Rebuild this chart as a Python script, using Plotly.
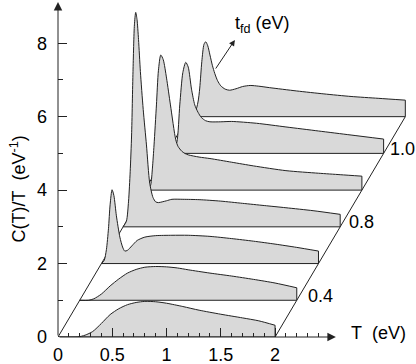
import plotly.graph_objects as go

# each curve: T measured from the left end of its own baseline, C(T)/T above its own baseline
t0 = [0, 0.18, 0.25, 0.32, 0.4, 0.48, 0.56, 0.64, 0.72, 0.8, 0.9, 1.0, 1.15, 1.3, 1.5, 1.7, 1.85, 2.0]
c0 = [0, 0, 0.05, 0.15, 0.37, 0.61, 0.77, 0.88, 0.94, 0.97, 0.96, 0.92, 0.83, 0.73, 0.62, 0.52, 0.44, 0.32]

t1 = [0, 0.08, 0.13, 0.2, 0.28, 0.36, 0.44, 0.52, 0.6, 0.7, 0.8, 0.9, 1.0, 1.2, 1.4, 1.6, 1.8, 2.0]
c1 = [0, 0, 0.04, 0.17, 0.39, 0.58, 0.74, 0.84, 0.9, 0.92, 0.91, 0.88, 0.83, 0.74, 0.66, 0.57, 0.47, 0.34]

t2 = [0, 0.025, 0.046, 0.065, 0.08, 0.098, 0.115, 0.138, 0.17, 0.195, 0.215, 0.24, 0.28, 0.33, 0.4,
      0.5, 0.65, 0.8, 1.0, 1.2, 1.4, 1.6, 1.8, 2.0]
c2 = [0, 0.08, 0.38, 0.95, 1.6, 2.01, 1.85, 1.3, 0.72, 0.45, 0.34, 0.36, 0.48, 0.63, 0.72,
      0.76, 0.77, 0.77, 0.74, 0.68, 0.61, 0.53, 0.44, 0.34]

t3 = [0, 0.03, 0.05, 0.065, 0.078, 0.091, 0.104, 0.116, 0.128, 0.142, 0.159, 0.185, 0.215, 0.245,
      0.275, 0.3, 0.325, 0.36, 0.4, 0.45, 0.55, 0.7, 0.9, 1.1, 1.3, 1.5, 1.75, 2.0]
c3 = [0, 0.15, 0.7, 1.5, 2.5, 4.23, 5.5, 5.84, 5.65, 5.1, 4.23, 3.2, 2.23, 1.19,
      0.8, 0.68, 0.66, 0.68, 0.71, 0.75, 0.75, 0.74, 0.70, 0.64, 0.58, 0.52, 0.44, 0.34]

t4 = [0, 0.04, 0.055, 0.07, 0.085, 0.107, 0.125, 0.147, 0.17, 0.2, 0.236, 0.285, 0.306, 0.34,
      0.368, 0.4, 0.5, 0.6, 0.8, 1.0, 1.3, 1.6, 1.8, 2.0]
c4 = [0, 0.05, 0.15, 0.6, 1.23, 2.32, 3.25, 3.68, 3.55, 3.05, 2.32, 1.37, 1.19, 1.06,
      1.0, 0.96, 0.9, 0.86, 0.76, 0.66, 0.53, 0.46, 0.42, 0.38]

t5 = [0, 0.06, 0.095, 0.122, 0.15, 0.177, 0.2, 0.23, 0.26, 0.29, 0.32, 0.36, 0.4, 0.5, 0.6,
      0.83, 1.1, 1.4, 1.7, 2.0]
c5 = [0, 0.05, 0.3, 1.32, 2.2, 2.48, 2.35, 1.75, 1.32, 1.12, 0.98, 0.89, 0.86, 0.86, 0.87,
      0.82, 0.72, 0.61, 0.5, 0.39]

t6 = [0, 0.06, 0.09, 0.106, 0.125, 0.145, 0.161, 0.18, 0.2, 0.222, 0.244, 0.27, 0.3, 0.34, 0.38,
      0.44, 0.5, 0.57, 0.65, 0.75, 1.0, 1.25, 1.5, 1.75, 2.0]
c6 = [0, 0.1, 0.4, 0.78, 1.5, 1.97, 2.04, 1.93, 1.68, 1.4, 1.18, 0.98, 0.84, 0.75, 0.72,
      0.76, 0.82, 0.85, 0.83, 0.79, 0.7, 0.62, 0.55, 0.5, 0.45]

curves_t = [t0, t1, t2, t3, t4, t5, t6]
curves_c = [c0, c1, c2, c3, c4, c5, c6]
shift_x = [0, 0.2, 0.4, 0.6, 0.8, 1.0, 1.2]
shift_y = [0, 1, 2, 3, 4, 5, 6]
t_span = 2.0

label_curves = [1, 3, 5]
label_text = ['0.4', '0.8', '1.0']

x_major = [0, 0.5, 1, 1.5, 2]
x_minor = [0.1, 0.2, 0.3, 0.4, 0.6, 0.7, 0.8, 0.9, 1.1, 1.2, 1.3, 1.4, 1.6, 1.7, 1.8, 1.9,
           2.1, 2.2, 2.3, 2.4]
y_major = [0, 2, 4, 6, 8]
y_minor = [1, 3, 5, 7]

ink = '#222222'
grey = '#d9d9d9'
font = 'Liberation Sans, Arial, sans-serif'

fig = go.Figure()

# the two slanted edges of the stack, drawn behind everything
fig.add_trace(go.Scatter(x=[shift_x[0], shift_x[-1]], y=[shift_y[0], shift_y[-1]],
                         mode='lines', line=dict(color=ink, width=1), hoverinfo='skip'))
fig.add_trace(go.Scatter(x=[shift_x[0] + t_span, shift_x[-1] + t_span],
                         y=[shift_y[0], shift_y[-1]],
                         mode='lines', line=dict(color=ink, width=1), hoverinfo='skip'))

# back curves first so the front ones hide them
for k in reversed(range(len(curves_t))):
    sx = shift_x[k]
    sy = shift_y[k]
    fig.add_trace(go.Scatter(
        x=[sx, sx + t_span, sx + t_span],
        y=[sy, sy, sy + curves_c[k][-1]],
        mode='lines', line=dict(color=ink, width=1), hoverinfo='skip'))
    fig.add_trace(go.Scatter(
        x=[sx + t for t in curves_t[k]],
        y=[sy + c for c in curves_c[k]],
        mode='lines', line=dict(color=ink, width=1, shape='spline', smoothing=0.7),
        fill='tonexty', fillcolor=grey, hoverinfo='skip'))

annotations = []
shifts = [9, 7, 4]
for i, k in enumerate(label_curves):
    annotations.append(dict(x=shift_x[k] + t_span, y=shift_y[k] + 0.12, text=label_text[i],
                            xanchor='left', yanchor='middle', showarrow=False, xshift=shifts[i],
                            font=dict(size=18, color='black', family=font)))

# axes with arrow heads
annotations.append(dict(x=2.56, y=0, ax=0, ay=0, xref='x', yref='y', axref='x', ayref='y',
                        text='', showarrow=True, arrowhead=2, arrowsize=1.7, arrowwidth=1,
                        arrowcolor=ink))
annotations.append(dict(x=0, y=9.12, ax=0, ay=0, xref='x', yref='y', axref='x', ayref='y',
                        text='', showarrow=True, arrowhead=2, arrowsize=1.7, arrowwidth=1,
                        arrowcolor=ink))
# t_fd direction
annotations.append(dict(x=1.63, y=8.09, ax=1.444, ay=7.27, xref='x', yref='y', axref='x',
                        ayref='y', text='', showarrow=True, arrowhead=2, arrowsize=1.2,
                        arrowwidth=1, arrowcolor=ink))
annotations.append(dict(x=1.615, y=8.5, text='t<sub>fd</sub> (eV)', xanchor='left',
                        yanchor='middle', showarrow=False,
                        font=dict(size=18, color='black', family=font)))
annotations.append(dict(x=2.68, y=0.12, text='T\u00a0\u00a0(eV)', xanchor='left',
                        yanchor='middle', showarrow=False,
                        font=dict(size=18, color='black', family=font)))
annotations.append(dict(x=0, y=4.02, xref='paper', yref='y', xshift=-40, xanchor='center',
                        yanchor='middle',
                        text='C(T)/T\u00a0\u00a0(eV<sup>-1</sup>)', textangle=-90,
                        showarrow=False, font=dict(size=18, color='black', family=font)))

fig.update_layout(
    width=416, height=364,
    margin=dict(l=58, r=2, t=1, b=27),
    paper_bgcolor='white', plot_bgcolor='white',
    showlegend=False,
    font=dict(family=font, size=18, color='black'),
    annotations=annotations,
    xaxis=dict(range=[0, 3.28], showgrid=False, zeroline=False, showline=False,
               automargin=False,
               tickmode='array', tickvals=x_major, ticks='inside', ticklen=9,
               tickcolor=ink, tickwidth=1, ticklabelstandoff=5,
               minor=dict(tickmode='array', tickvals=x_minor, ticks='inside', ticklen=4,
                          tickcolor=ink, tickwidth=1, showgrid=False),
               tickfont=dict(size=18, family=font, color='black')),
    yaxis=dict(range=[0, 9.15], showgrid=False, zeroline=False, showline=False,
               automargin=False,
               tickmode='array', tickvals=y_major, ticks='inside', ticklen=9,
               tickcolor=ink, tickwidth=1, ticklabelstandoff=10,
               minor=dict(tickmode='array', tickvals=y_minor, ticks='inside', ticklen=5,
                          tickcolor=ink, tickwidth=1, showgrid=False),
               tickfont=dict(size=18, family=font, color='black')),
)

# drop the browser's default page margin so the figure sits at the window corner
fig.write_html("out.html", config={'displayModeBar': False},
               post_script="document.body.style.margin = '0px';")
